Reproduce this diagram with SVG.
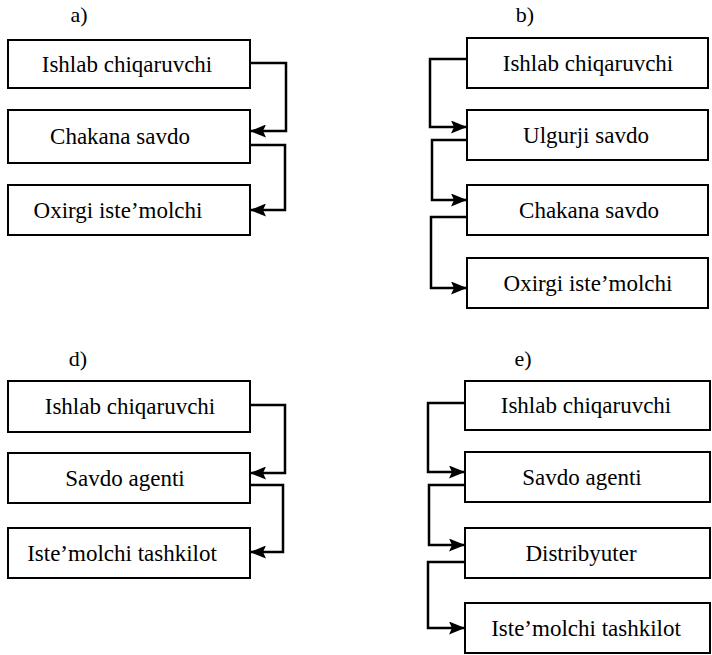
<svg xmlns="http://www.w3.org/2000/svg" width="712" height="655" viewBox="0 0 712 655">
<style>
.box{fill:#fff;stroke:#000;stroke-width:2}
.t{font-family:'Liberation Serif','Times New Roman','DejaVu Serif',serif;font-size:23px;fill:#000;text-anchor:middle}
.lbl{font-family:'Liberation Serif','Times New Roman','DejaVu Serif',serif;font-size:22px;fill:#000;text-anchor:middle}
.c{fill:none;stroke:#000;stroke-width:2.5;marker-end:url(#arr)}
</style>
<defs>
<marker id="arr" markerUnits="userSpaceOnUse" markerWidth="17" markerHeight="13" refX="16" refY="6.5" orient="auto">
<path d="M0,0 L16,6.5 L0,13 L3,6.5 Z" fill="#000"/>
</marker>
</defs>
<rect width="712" height="655" fill="#fff"/>
<g id="labels" font-family="Liberation Serif, serif">
<text class="lbl" x="79" y="22">a)</text>
<text class="lbl" x="525" y="22">b)</text>
<text class="lbl" x="78" y="366">d)</text>
<text class="lbl" x="523" y="366">e)</text>
</g>
<g id="a1"><rect class="box" x="8" y="40" width="242" height="48"/><text class="t" x="127" y="72">Ishlab chiqaruvchi</text></g>
<g id="a2"><rect class="box" x="8" y="110" width="242" height="53"/><text class="t" x="120" y="144">Chakana savdo</text></g>
<g id="a3"><rect class="box" x="8" y="185" width="242" height="50"/><text class="t" x="118" y="218">Oxirgi iste’molchi</text></g>
<g id="b1"><rect class="box" x="467" y="38" width="241" height="50"/><text class="t" x="588" y="71">Ishlab chiqaruvchi</text></g>
<g id="b2"><rect class="box" x="467" y="110" width="241" height="50"/><text class="t" x="586" y="143">Ulgurji savdo</text></g>
<g id="b3"><rect class="box" x="467" y="185" width="241" height="50"/><text class="t" x="589" y="218">Chakana savdo</text></g>
<g id="b4"><rect class="box" x="467" y="258" width="241" height="50"/><text class="t" x="588" y="291">Oxirgi iste’molchi</text></g>
<g id="d1"><rect class="box" x="8" y="381" width="242" height="51"/><text class="t" x="130" y="414">Ishlab chiqaruvchi</text></g>
<g id="d2"><rect class="box" x="8" y="453" width="242" height="50"/><text class="t" x="125" y="486">Savdo agenti</text></g>
<g id="d3"><rect class="box" x="8" y="528" width="242" height="50"/><text class="t" x="122" y="561">Iste’molchi tashkilot</text></g>
<g id="e1"><rect class="box" x="465" y="381" width="245" height="49"/><text class="t" x="586" y="413">Ishlab chiqaruvchi</text></g>
<g id="e2"><rect class="box" x="465" y="452" width="245" height="50"/><text class="t" x="582" y="485">Savdo agenti</text></g>
<g id="e3"><rect class="box" x="465" y="528" width="245" height="50"/><text class="t" x="581" y="561">Distribyuter</text></g>
<g id="e4"><rect class="box" x="465" y="603" width="245" height="50"/><text class="t" x="586" y="636">Iste’molchi tashkilot</text></g>
<g id="connectors">
<path class="c" d="M250,63 H286 V131 H250"/>
<path class="c" d="M250,145 H285 V210 H250"/>
<path class="c" d="M467,59 H430 V127 H467"/>
<path class="c" d="M467,140 H432 V200 H467"/>
<path class="c" d="M467,217 H431 V288 H467"/>
<path class="c" d="M250,405 H285 V473 H250"/>
<path class="c" d="M250,485 H283 V552 H250"/>
<path class="c" d="M465,403 H428 V472 H465"/>
<path class="c" d="M465,485 H429 V545 H465"/>
<path class="c" d="M465,562 H428 V628 H465"/>
</g>
</svg>
